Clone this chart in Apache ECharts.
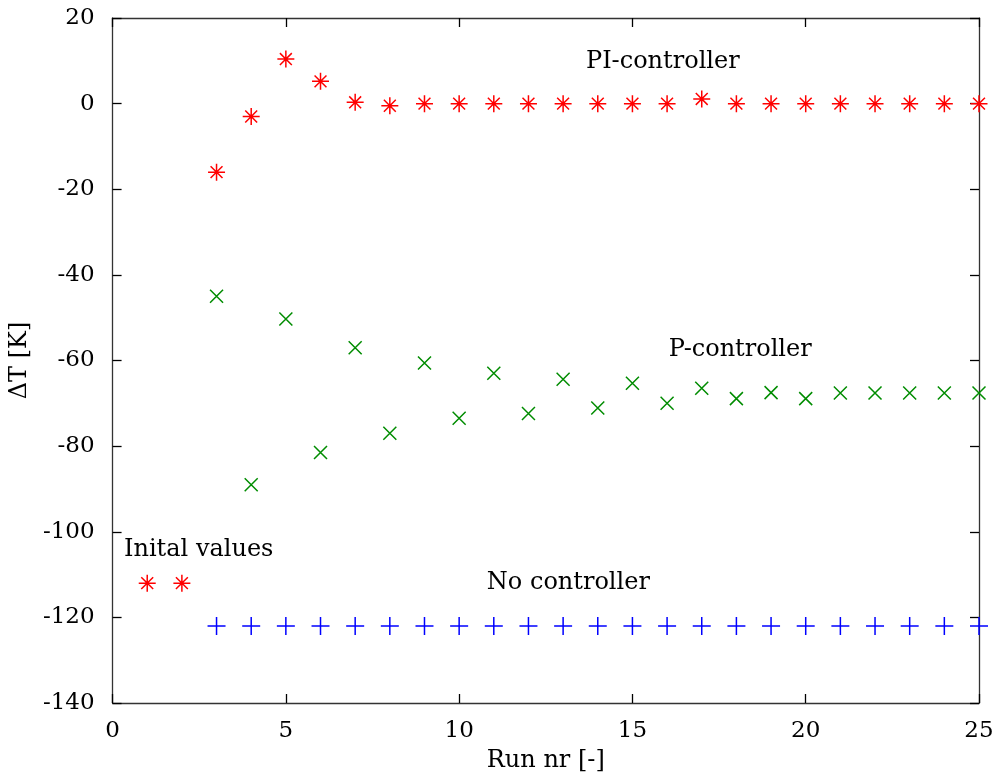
<!DOCTYPE html>
<html>
<head>
<meta charset="utf-8">
<script src="https://cdn.jsdelivr.net/npm/echarts@6/dist/echarts.min.js"></script>
<style>html,body{margin:0;padding:0;background:#fff}#c{width:997px;height:779px}</style>
</head>
<body>
<div id="c"></div>
<script>
var runs = [3,4,5,6,7,8,9,10,11,12,13,14,15,16,17,18,19,20,21,22,23,24,25];
var piValues = [-16,-3,10.4,5.2,0.3,-0.5,0,0,0,0,0,0,0,0,1.1,0,0,0,0,0,0,0,0];
var pValues = [-45,-89,-50.3,-81.5,-57,-77,-60.6,-73.5,-63,-72.4,-64.4,-71.1,-65.3,-70,-66.5,-68.9,-67.5,-68.9,-67.6,-67.6,-67.6,-67.6,-67.6];
var noCtrlValues = [-122,-122,-122,-122,-122,-122,-122,-122,-122,-122,-122,-122,-122,-122,-122,-122,-122,-122,-122,-122,-122,-122,-122];
var initRuns = [1,2];
var initValues = [-112,-112];
var labelTexts = ['PI-controller','P-controller','Inital values','No controller'];
var labelX = [13.66,16.05,0.33,10.8];
var labelY = [9.8,-57.6,-104.3,-111.8];

function zip(xs, ys){ return xs.map(function(x,i){ return [x, ys[i]]; }); }

var FONT = 'DejaVu Serif';
var FS = 23;
var FSW = 24;
var STAR = 'path://M5 0 L5 10 M0 5 L10 5 M1.5 1.5 L8.5 8.5 M8.5 1.5 L1.5 8.5';
var CROSS = 'path://M0 0 L10 10 M10 0 L0 10';
var PLUS = 'path://M5 0 L5 10 M0 5 L10 5';

function markerStyle(c){ return {color:'transparent', borderColor:c, borderWidth:1.5, opacity:1}; }

var chart = echarts.init(document.getElementById('c'), null, {renderer:'canvas'});
var axisLine = {show:true, onZero:false, lineStyle:{color:'#333', width:1.3}};
var tickIn = {show:true, inside:true, length:9, lineStyle:{color:'#000', width:1.3}};
chart.setOption({
  animation:false,
  backgroundColor:'#fff',
  grid:{left:111, right:18, top:18, bottom:76, containLabel:false},
  xAxis:[
    {type:'value', min:0, max:25, interval:5, position:'bottom',
     axisLine:axisLine, axisTick:tickIn, splitLine:{show:false},
     axisLabel:{fontFamily:FONT, fontSize:FS, color:'#000', margin:17},
     name:'Run nr [-]', nameLocation:'middle', nameGap:46,
     nameTextStyle:{fontFamily:FONT, fontSize:FSW, color:'#000'}},
    {type:'value', min:0, max:25, interval:5, position:'top',
     axisLine:axisLine, axisTick:tickIn, splitLine:{show:false}, axisLabel:{show:false}}
  ],
  yAxis:[
    {type:'value', min:-140, max:20, interval:20, position:'left',
     axisLine:axisLine, axisTick:tickIn, splitLine:{show:false},
     axisLabel:{fontFamily:FONT, fontSize:FS, color:'#000', margin:18},
     name:'ΔT [K]', nameLocation:'middle', nameGap:78, nameRotate:90,
     nameTextStyle:{fontFamily:FONT, fontSize:FSW, color:'#000'}},
    {type:'value', min:-140, max:20, interval:20, position:'right',
     axisLine:axisLine, axisTick:tickIn, splitLine:{show:false}, axisLabel:{show:false}}
  ],
  series:[
    {type:'scatter', name:'PI', data:zip(runs, piValues), symbol:STAR, symbolSize:17, itemStyle:markerStyle('#ff0000')},
    {type:'scatter', name:'Init', data:zip(initRuns, initValues), symbol:STAR, symbolSize:17, itemStyle:markerStyle('#ff0000')},
    {type:'scatter', name:'P', data:zip(runs, pValues), symbol:CROSS, symbolSize:13, itemStyle:markerStyle('#008c00')},
    {type:'scatter', name:'None', data:zip(runs, noCtrlValues), symbol:PLUS, symbolSize:18, itemStyle:markerStyle('#0000ff')}
  ]
});
var texts = labelTexts.map(function(t,i){
  var p = chart.convertToPixel({xAxisIndex:0, yAxisIndex:0}, [labelX[i], labelY[i]]);
  return {type:'text', x:p[0], y:p[1], silent:true,
    style:{text:t, fontFamily:FONT, fontSize:FSW, fill:'#000', textAlign:'left', textVerticalAlign:'middle'}};
});
chart.setOption({graphic:texts});
</script>
</body>
</html>
